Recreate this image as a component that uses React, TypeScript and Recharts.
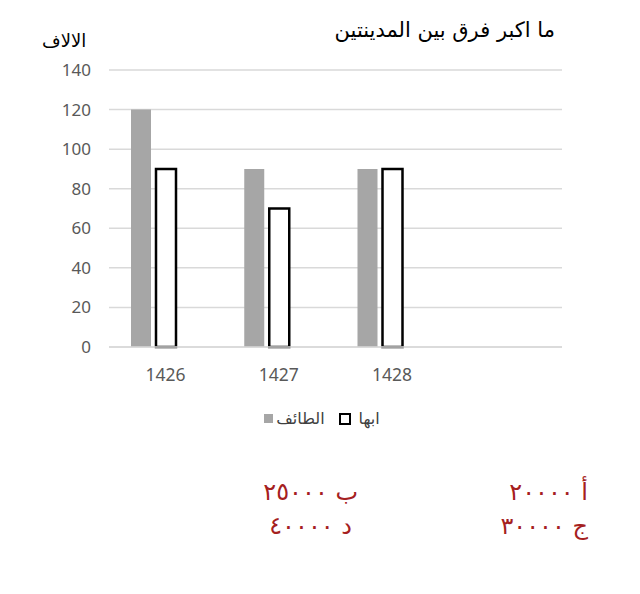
import React from 'react';
import { BarChart, Bar, XAxis, YAxis, CartesianGrid, Legend } from 'recharts';

// السنوات (الفئة الرابعة فارغة كما في الأصل)
const years = ['1426', '1427', '1428', ''];
const taifValues = [120, 90, 90, null];
const abhaValues = [90, 70, 90, null];
const yTicks = [0, 20, 40, 60, 80, 100, 120, 140];

const chartTitle = 'ما اكبر فرق بين المدينتين';
const yLabel = 'الالاف';
const choices = [
  { text: 'أ ٢٠٠٠٠', right: 52, top: 478 },
  { text: 'ب ٢٥٠٠٠', right: 282, top: 478 },
  { text: 'ج ٣٠٠٠٠', right: 52, top: 512 },
  { text: 'د ٤٠٠٠٠', right: 288, top: 512 },
];

const data = years.map((year, i) => ({
  year,
  taif: taifValues[i],
  abha: abhaValues[i],
  empty: null,
}));

const arabicFont = '"DejaVu Sans", sans-serif';
const tickFont = '"Noto Sans", sans-serif';

function LegendContent() {
  return (
    <div
      style={{
        display: 'flex',
        justifyContent: 'center',
        alignItems: 'center',
        fontFamily: arabicFont,
        fontSize: 16,
        color: '#404040',
        paddingLeft: 4,
      }}
    >
      <span style={{ width: 9, height: 9, background: '#a6a6a6', display: 'inline-block', marginRight: 3 }} />
      <span style={{ marginRight: 14 }}>الطائف</span>
      <span
        style={{
          width: 8,
          height: 8,
          border: '2px solid #000',
          background: '#fff',
          display: 'inline-block',
          marginRight: 8,
        }}
      />
      <span>ابها</span>
    </div>
  );
}

export default function App() {
  return (
    <div style={{ position: 'absolute', left: 0, top: 0, width: 640, height: 594, background: '#fff' }}>
      <BarChart
        width={640}
        height={426}
        data={data}
        margin={{ top: 70, right: 78, left: 0, bottom: 0 }}
        barSize={20}
        barGap={5}
      >
        <CartesianGrid vertical={false} stroke="#d9d9d9" strokeWidth={1.5} />
        <XAxis
          dataKey="year"
          axisLine={{ stroke: '#d9d9d9', strokeWidth: 1.5 }}
          tickLine={false}
          tickMargin={16}
          height={60}
          tick={{ fill: '#595959', fontSize: 17.5, fontFamily: tickFont }}
        />
        <YAxis
          width={109}
          domain={[0, 140]}
          ticks={yTicks}
          axisLine={false}
          tickLine={false}
          tickMargin={12}
          tick={{ fill: '#595959', fontSize: 17, fontFamily: tickFont }}
        />
        <Legend
          content={<LegendContent />}
          wrapperStyle={{ position: 'absolute', top: 409, left: 0, width: 640 }}
        />
        <Bar dataKey="taif" name="الطائف" fill="#a6a6a6" isAnimationActive={false} />
        <Bar dataKey="abha" name="ابها" fill="#ffffff" stroke="#000000" strokeWidth={2.5} isAnimationActive={false} />
        <Bar dataKey="empty" legendType="none" fill="none" isAnimationActive={false} />
      </BarChart>

      <div
        dir="rtl"
        style={{ position: 'absolute', right: 85, top: 18, fontFamily: arabicFont, fontSize: 21, color: '#000' }}
      >
        {chartTitle}
      </div>
      <div
        dir="rtl"
        style={{ position: 'absolute', left: 42, top: 30, fontFamily: arabicFont, fontSize: 18, color: '#000' }}
      >
        {yLabel}
      </div>

      {choices.map((c) => (
        <div
          key={c.text}
          dir="rtl"
          style={{
            position: 'absolute',
            right: c.right,
            top: c.top,
            fontFamily: arabicFont,
            fontSize: 24,
            color: '#a52020',
            whiteSpace: 'nowrap',
          }}
        >
          {c.text}
        </div>
      ))}
    </div>
  );
}
